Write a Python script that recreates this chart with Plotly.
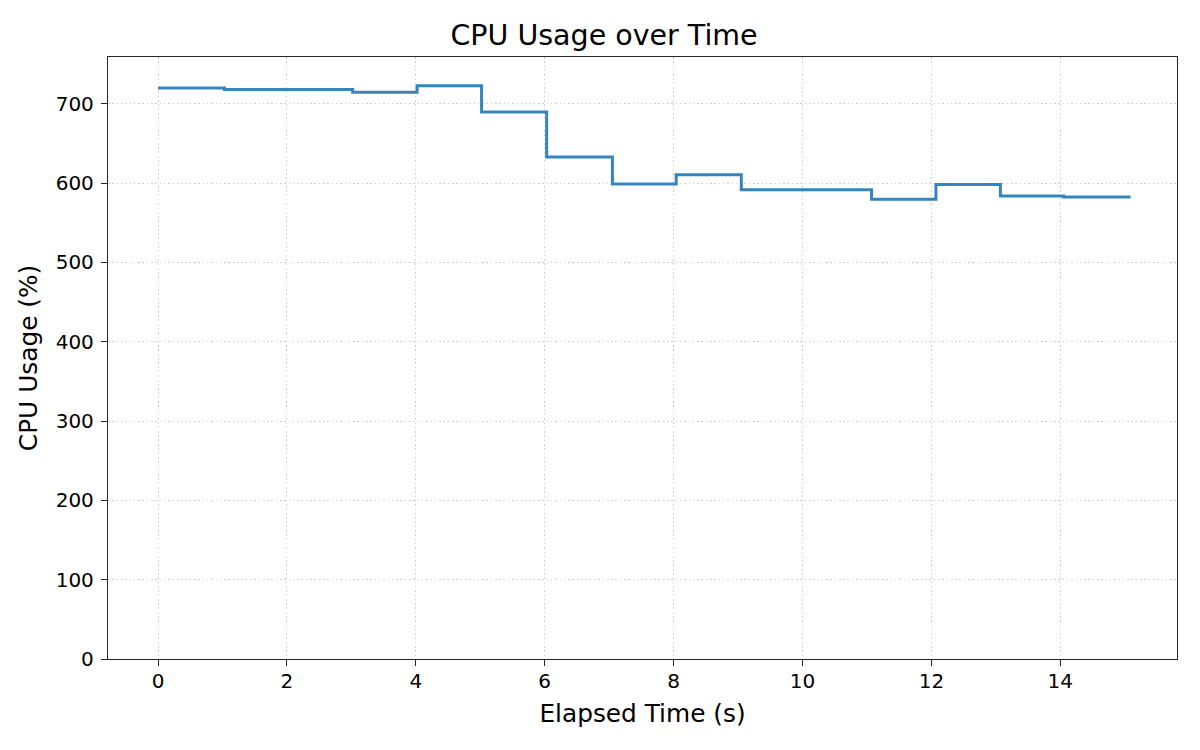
import plotly.graph_objects as go

elapsed_s = [0, 1.03, 2.03, 3.02, 4.02, 5.02, 6.03, 7.05, 8.04, 9.05, 10.06, 11.07, 12.07, 13.07, 14.05, 15.09]
cpu_pct = [720, 718, 718, 714.7, 722.7, 689.5, 632.8, 599, 610.5, 591.6, 591.6, 579.8, 598.3, 583.6, 582.4, 582.4]
x_ticks = [0, 2, 4, 6, 8, 10, 12, 14]
y_ticks = [0, 100, 200, 300, 400, 500, 600, 700]

FONT = "DejaVu Sans"
W, H = 1192, 742  # page body adds 8px offset

fig = go.Figure()
fig.add_trace(go.Scatter(
    x=elapsed_s, y=cpu_pct, mode="lines",
    line=dict(shape="hv", color="#3585bc", width=3),
    showlegend=False,
))

axis_common = dict(
    showline=True, linecolor="#262626", linewidth=1.3, mirror=True,
    ticks="outside", ticklen=6, tickwidth=1.3, tickcolor="#262626",
    showgrid=True, gridcolor="#cdcdcd", griddash="1.5px,2.8px", gridwidth=1.2,
    zeroline=False,
    tickfont=dict(family=FONT, size=20, color="black"),
)

fig.update_layout(
    width=W, height=H,
    paper_bgcolor="white", plot_bgcolor="white",
    margin=dict(l=100, r=23, t=49, b=91),
    title=dict(text="CPU Usage over Time", x=0.5, xanchor="center",
               y=1 - 27 / H, yanchor="middle", yref="container",
               font=dict(family=FONT, size=28.5, color="black")),
    xaxis=dict(range=[-0.776, 15.81], tickvals=x_ticks, ticklabelstandoff=-2,
               title=dict(text="Elapsed Time (s)", standoff=12,
                          font=dict(family=FONT, size=24.8, color="black")),
               **axis_common),
    yaxis=dict(range=[0, 759], tickvals=y_ticks, ticklabelstandoff=3,
               title=dict(text="CPU Usage (%)", standoff=10,
                          font=dict(family=FONT, size=24.8, color="black")),
               **axis_common),
)

fig.write_html("out.html")
